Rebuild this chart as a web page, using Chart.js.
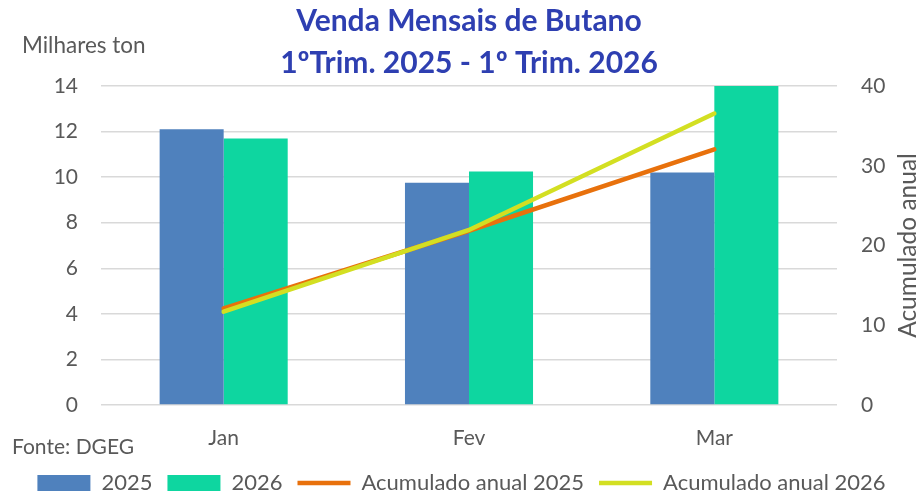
<!DOCTYPE html>
<html>
<head>
<meta charset="utf-8">
<script src="https://cdn.jsdelivr.net/npm/chart.js@4/dist/chart.umd.min.js"></script>
<style>
  html, body { margin: 0; background: #fff; }
</style>
</head>
<body>
<canvas id="grafico" width="923" height="494"></canvas>
<script>
'use strict';

// dados
const meses = ['Jan', 'Fev', 'Mar'];
const vendas2025 = [12.1, 9.75, 10.2];
const vendas2026 = [11.7, 10.25, 14.6];
const acumulado2025 = [12.1, 21.85, 32.05];
const acumulado2026 = [11.7, 21.95, 36.55];
const titulo = ['Venda Mensais de Butano', '1ºTrim. 2025 - 1º Trim. 2026'];

const corTexto = '#595959';
const fonte = 'Lato';

// textos fora dos eixos (titulo, unidades, fonte)
const textosExtra = {
	id: 'textosExtra',
	afterDraw(chart) {
		const ctx = chart.ctx;
		const area = chart.chartArea;
		ctx.save();
		ctx.textBaseline = 'middle';
		ctx.textAlign = 'center';
		ctx.fillStyle = '#2E3FB1';
		ctx.font = 'bold 30px ' + fonte;
		const cx = (area.left + area.right) / 2;
		ctx.fillText(titulo[0], cx, 21);
		ctx.fillText(titulo[1], cx, 63);

		ctx.fillStyle = corTexto;
		ctx.font = '22.5px ' + fonte;
		ctx.textAlign = 'left';
		ctx.fillText('Milhares ton', 22, 46);
		ctx.font = '21px ' + fonte;
		ctx.fillText('Fonte: DGEG', 12, 447);

		ctx.font = '24.5px ' + fonte;
		ctx.translate(908, (area.top + area.bottom) / 2);
		ctx.rotate(-Math.PI / 2);
		ctx.textAlign = 'center';
		ctx.fillText('Acumulado anual', 0, 0);
		ctx.restore();
	}
};

let ctx = document.getElementById('grafico').getContext('2d');

let config = {
	type: 'bar',
	data: {
		labels: meses,
		datasets: [{
			label: '2025',
			data: vendas2025,
			backgroundColor: '#4F81BD',
			borderWidth: 0,
			pointStyle: 'rect',
			yAxisID: 'y',
			order: 2,
			categoryPercentage: 0.522,
			barPercentage: 1,
		}, {
			label: '2026',
			data: vendas2026,
			backgroundColor: '#0ED6A0',
			borderWidth: 0,
			pointStyle: 'rect',
			yAxisID: 'y',
			order: 2,
			categoryPercentage: 0.522,
			barPercentage: 1,
		}, {
			type: 'line',
			label: 'Acumulado anual 2025',
			data: acumulado2025,
			borderColor: '#E8710C',
			backgroundColor: '#E8710C',
			borderWidth: 4.5,
			borderCapStyle: 'round',
			pointRadius: 0,
			pointStyle: 'line',
			tension: 0,
			yAxisID: 'y1',
			order: 1,
		}, {
			type: 'line',
			label: 'Acumulado anual 2026',
			data: acumulado2026,
			borderColor: '#D3DF22',
			backgroundColor: '#D3DF22',
			borderWidth: 4.5,
			borderCapStyle: 'round',
			pointRadius: 0,
			pointStyle: 'line',
			tension: 0,
			yAxisID: 'y1',
			order: 0,
		}],
	},
	options: {
		responsive: false,
		animation: false,
		layout: { padding: { top: 86, left: 0, right: 0, bottom: 0 } },
		plugins: {
			title: { display: false },
			tooltip: { enabled: false },
			legend: {
				position: 'bottom',
				maxHeight: 37,
				labels: {
					usePointStyle: true,
					pointStyleWidth: 53,
					boxHeight: 16,
					padding: 15,
					color: corTexto,
					font: { family: fonte, size: 22 },
					sort: (a, b) => a.datasetIndex - b.datasetIndex,
				},
			},
		},
		scales: {
			x: {
				grid: { display: false, drawTicks: false },
				border: { display: false },
				ticks: { color: corTexto, font: { family: fonte, size: 21 }, padding: 21 },
				afterFit: (s) => { s.height = 52; },
			},
			y: {
				position: 'left',
				min: 0,
				max: 14,
				ticks: { stepSize: 2, padding: 23, color: corTexto, font: { family: fonte, size: 21 } },
				grid: { color: '#D9D9D9', lineWidth: 1.5, drawTicks: false },
				border: { display: false },
				afterFit: (s) => { s.width = 101; },
			},
			y1: {
				position: 'right',
				min: 0,
				max: 40,
				ticks: { stepSize: 10, padding: 24, color: corTexto, font: { family: fonte, size: 21 } },
				grid: { display: false, drawTicks: false },
				border: { display: false },
				afterFit: (s) => { s.width = 86; },
			},
		},
	},
	plugins: [textosExtra],
};

let grafico = new Chart(ctx, config);
</script>
</body>
</html>
